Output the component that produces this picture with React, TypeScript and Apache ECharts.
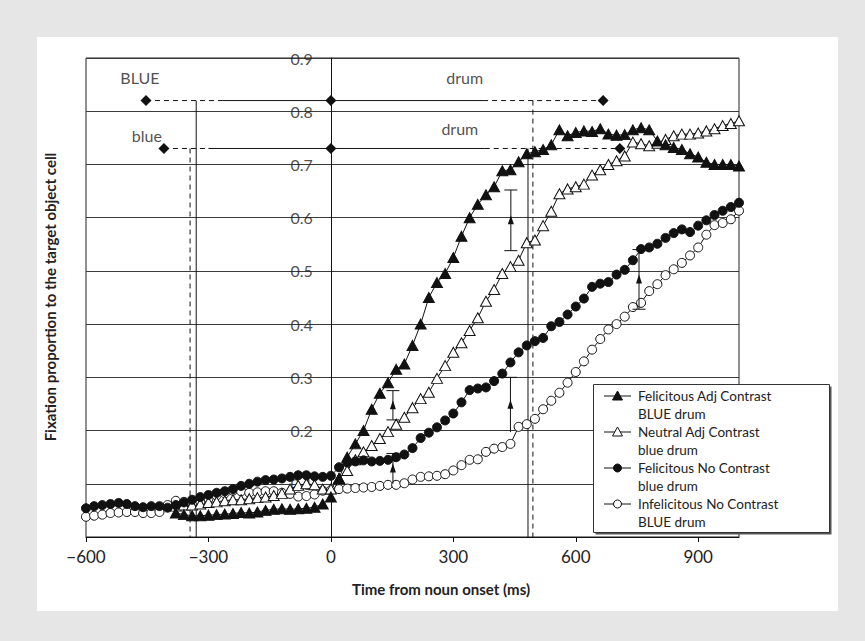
import React, { useEffect, useRef } from 'react';
import * as echarts from 'echarts';

// sampling grid (ms from noun onset)
const timeMs: number[] = Array.from({ length: 81 }, (_, i) => -600 + i * 20);

// Felicitous Adj Contrast (BLUE drum) – filled triangles (no marks drawn before -380 ms)
const felicitousAdj = [
  null, null, null, null, null, null, null, null, null, null, null,
  0.045, 0.042, 0.040, 0.040, 0.041, 0.042, 0.043, 0.044, 0.046, 0.045, 0.047, 0.050, 0.052, 0.053, 0.052, 0.053, 0.054, 0.056, 0.062,
  0.075, 0.110, 0.150, 0.175, 0.200, 0.240, 0.270, 0.290, 0.315, 0.325,
  0.360, 0.400, 0.450, 0.478, 0.495, 0.525, 0.565, 0.600, 0.625, 0.643,
  0.658, 0.688, 0.690, 0.705, 0.720, 0.724, 0.728, 0.737, 0.765, 0.754,
  0.760, 0.763, 0.762, 0.767, 0.757, 0.755, 0.756, 0.765, 0.769, 0.765,
  0.744, 0.737, 0.732, 0.728, 0.720, 0.714, 0.704, 0.700, 0.700, 0.700,
  0.697,
];

// Neutral Adj Contrast (blue drum) – open triangles (no marks drawn before -380 ms)
const neutralAdj = [
  null, null, null, null, null, null, null, null, null, null, null,
  0.058, 0.060, 0.060, 0.062, 0.065, 0.066, 0.068, 0.070, 0.070, 0.072, 0.074, 0.075, 0.078, 0.082, 0.090, 0.097, 0.100, 0.098, 0.090,
  0.090, 0.110, 0.125, 0.145, 0.160, 0.172, 0.185, 0.198, 0.212, 0.225,
  0.243, 0.260, 0.272, 0.298, 0.322, 0.347, 0.365, 0.388, 0.412, 0.443,
  0.465, 0.495, 0.508, 0.520, 0.553, 0.558, 0.585, 0.612, 0.645, 0.654,
  0.658, 0.663, 0.680, 0.690, 0.700, 0.707, 0.716, 0.742, 0.739, 0.735,
  0.740, 0.747, 0.754, 0.757, 0.757, 0.759, 0.763, 0.767, 0.773, 0.777,
  0.782,
];

// Felicitous No Contrast (blue drum) – filled circles
const felicitousNo = [
  0.054, 0.058, 0.060, 0.062, 0.064, 0.062, 0.058, 0.056, 0.058, 0.058, 0.055,
  0.060, 0.065, 0.070, 0.075, 0.079, 0.083, 0.086, 0.090, 0.096, 0.100, 0.104, 0.107, 0.108, 0.110, 0.113, 0.116, 0.116, 0.114, 0.113,
  0.115, 0.131, 0.140, 0.142, 0.144, 0.142, 0.143, 0.145, 0.150, 0.155,
  0.167, 0.186, 0.196, 0.206, 0.219, 0.232, 0.253, 0.276, 0.279, 0.281,
  0.293, 0.307, 0.328, 0.347, 0.360, 0.368, 0.374, 0.396, 0.404, 0.418,
  0.433, 0.448, 0.470, 0.476, 0.479, 0.493, 0.502, 0.520, 0.541, 0.544,
  0.551, 0.562, 0.571, 0.578, 0.573, 0.585, 0.595, 0.605, 0.613, 0.620,
  0.628,
];

// Infelicitous No Contrast (BLUE drum) – open circles
const infelicitousNo = [
  0.038, 0.040, 0.042, 0.045, 0.046, 0.047, 0.047, 0.045, 0.045, 0.047, 0.060,
  0.068, 0.066, 0.064, 0.067, 0.072, 0.078, 0.082, 0.087, 0.086, 0.083, 0.084, 0.086, 0.086, 0.083, 0.081, 0.076, 0.077, 0.080, 0.087,
  0.088, 0.090, 0.091, 0.092, 0.093, 0.094, 0.096, 0.098, 0.098, 0.101,
  0.108, 0.113, 0.114, 0.115, 0.118, 0.125, 0.135, 0.145, 0.146, 0.160,
  0.166, 0.169, 0.175, 0.207, 0.212, 0.222, 0.240, 0.256, 0.271, 0.290,
  0.310, 0.330, 0.352, 0.372, 0.390, 0.400, 0.414, 0.432, 0.440, 0.462,
  0.475, 0.492, 0.503, 0.515, 0.529, 0.544, 0.568, 0.586, 0.590, 0.597,
  0.613,
];

const legendNames = ['Felicitous Adj Contrast', 'Neutral Adj Contrast', 'Felicitous No Contrast', 'Infelicitous No Contrast'];
const legendSubNames = ['BLUE drum', 'blue drum', 'blue drum', 'BLUE drum'];
const yTickValues = [0.1, 0.2, 0.3, 0.4, 0.5, 0.6, 0.7, 0.8, 0.9];

// word timelines: [x1, y1, x2, y2, dashed]
const timelineSegments = [
  [-453, 0.82, -265, 0.82, 1],
  [-265, 0.82, 373, 0.82, 0],
  [373, 0.82, 667, 0.82, 1],
  [-409, 0.73, -300, 0.73, 1],
  [-300, 0.73, 377, 0.73, 0],
  [377, 0.73, 708, 0.73, 1],
  [-330, 0.82, -330, 0, 0],
  [-345, 0.73, -345, 0, 1],
  [483, 0.73, 483, 0, 0],
  [495, 0.82, 495, 0, 1],
];
const diamondPoints = [[-453, 0.82], [0, 0.82], [667, 0.82], [-409, 0.73], [0, 0.73], [708, 0.73]];
const wordLabels: [string, number, number][] = [
  ['BLUE', -468, 0.863], ['drum', 328, 0.863], ['blue', -451, 0.754], ['drum', 316, 0.767],
];
// difference bars: [x, low, high, bottomCap]
const diffBars = [
  [152, 0.22, 0.275, 1],
  [152, 0.10, 0.157, 0],
  [440, 0.197, 0.30, 0],
  [441, 0.538, 0.652, 1],
  [755, 0.428, 0.54, 1],
];

const FONT = 'Lato';
const INK = '#111';

function zip(vals: (number | null)[]) {
  return timeMs.map((t, i) => [t, vals[i] === null ? '-' : vals[i]]);
}

export default function App() {
  const ref = useRef<HTMLDivElement>(null);
  useEffect(() => {
    if (!ref.current) return;
    const chart = echarts.init(ref.current, null, { renderer: 'svg' });
    const lineCommon = {
      type: 'line',
      showAllSymbol: true,
      lineStyle: { color: INK, width: 1 },
      z: 3,
    };
    const legendRowsY = [396, 432, 468, 504];
    const legendGraphics: any[] = [
      { type: 'rect', shape: { x: 595.5, y: 386.5, width: 236, height: 148 }, style: { fill: '#555' }, z: 100 },
      { type: 'rect', shape: { x: 593.5, y: 384.5, width: 236, height: 148 }, style: { fill: '#fff', stroke: '#333', lineWidth: 1 }, z: 101 },
    ];
    legendRowsY.forEach((y, i) => {
      legendGraphics.push({ type: 'line', shape: { x1: 604, y1: y, x2: 631, y2: y }, style: { stroke: INK, lineWidth: 1 }, z: 102 });
      const filled = i === 0 || i === 2;
      const fill = filled ? INK : '#fff';
      if (i < 2) {
        legendGraphics.push({ type: 'polygon', shape: { points: [[617.5, y - 5], [612.5, y + 4], [622.5, y + 4]] }, style: { fill, stroke: INK, lineWidth: 1 }, z: 103 });
      } else {
        legendGraphics.push({ type: 'circle', shape: { cx: 617.5, cy: y, r: 4 }, style: { fill, stroke: INK, lineWidth: 1 }, z: 103 });
      }
      legendGraphics.push({ type: 'text', x: 638, y, style: { text: legendNames[i], font: `13.5px ${FONT}`, fill: '#222', verticalAlign: 'middle', align: 'left' }, z: 103 });
      legendGraphics.push({ type: 'text', x: 638, y: y + 18, style: { text: legendSubNames[i], font: `13.5px ${FONT}`, fill: '#222', verticalAlign: 'middle', align: 'left' }, z: 103 });
    });

    chart.setOption({
      animation: false,
      backgroundColor: 'transparent',
      grid: { left: 86, right: 126, top: 58, bottom: 104, show: true, borderColor: '#222', borderWidth: 1, backgroundColor: 'transparent' },
      xAxis: {
        type: 'value', min: -600, max: 1000, interval: 300,
        axisLine: { onZero: false, lineStyle: { color: INK, width: 1 } },
        axisTick: { show: true, length: 5, lineStyle: { color: INK } },
        axisLabel: {
          showMaxLabel: false, margin: 11, fontSize: 17, color: '#222', fontFamily: FONT,
          formatter: (v: number) => (v === 1000 ? '' : v < 0 ? '\u2212' + Math.abs(v) : String(v)),
        },
        splitLine: { show: false },
      },
      yAxis: {
        type: 'value', min: 0, max: 0.9, interval: 0.1,
        axisLine: { show: true, onZero: true, lineStyle: { color: INK, width: 1 } },
        axisTick: { show: false },
        axisLabel: { show: false },
        splitLine: { show: true, lineStyle: { color: '#3a3a3a', width: 1.2 } },
      },
      graphic: [
        { type: 'text', x: 441, y: 589, style: { text: 'Time from noun onset (ms)', font: `bold 15px ${FONT}`, fill: '#222', align: 'center', verticalAlign: 'middle' } },
        { type: 'text', x: 50, y: 297, rotation: Math.PI / 2, style: { text: 'Fixation proportion to the target object cell', font: `bold 15px ${FONT}`, fill: '#222', align: 'center', verticalAlign: 'middle' } },
        ...legendGraphics,
      ],
      series: [
        {
          type: 'custom', z: 1, silent: true,
          encode: { x: [0, 2], y: [1, 3] },
          data: timelineSegments,
          renderItem: (_p: any, api: any) => {
            const a = api.coord([api.value(0), api.value(1)]);
            const b = api.coord([api.value(2), api.value(3)]);
            return {
              type: 'line',
              shape: { x1: a[0], y1: a[1], x2: b[0], y2: b[1] },
              style: { stroke: INK, lineWidth: 1, lineDash: api.value(4) ? [5, 4] : null },
            };
          },
        },
        {
          type: 'scatter', z: 2, silent: true, symbol: 'diamond', symbolSize: [11, 11],
          itemStyle: { color: INK, opacity: 1 }, data: diamondPoints,
        },
        {
          type: 'scatter', z: 2, silent: true, symbolSize: 0,
          data: wordLabels.map(([w, x, y]) => ({ name: w, value: [x, y] })),
          label: { show: true, position: 'inside', formatter: '{b}', fontSize: 16, color: '#222', fontFamily: FONT },
        },
        {
          type: 'scatter', z: 2, silent: true, symbolSize: 0,
          data: yTickValues.map((v) => [0, v]),
          label: {
            show: true, position: 'left', distance: 18, fontSize: 16, color: '#222', fontFamily: FONT,
            formatter: (p: any) => p.value[1].toFixed(1),
          },
        },
        {
          ...lineCommon, name: legendNames[3], data: zip(infelicitousNo),
          symbol: 'circle', symbolSize: 9,
          itemStyle: { color: '#fff', borderColor: INK, borderWidth: 1 },
        },
        {
          ...lineCommon, name: legendNames[1], data: zip(neutralAdj),
          symbol: 'triangle', symbolSize: [11, 10],
          itemStyle: { color: '#fff', borderColor: INK, borderWidth: 1 },
        },
        {
          ...lineCommon, name: legendNames[0], data: zip(felicitousAdj),
          symbol: 'triangle', symbolSize: [11, 10],
          itemStyle: { color: INK, borderColor: INK, borderWidth: 1 },
        },
        {
          ...lineCommon, name: legendNames[2], data: zip(felicitousNo),
          symbol: 'circle', symbolSize: 9,
          itemStyle: { color: INK, borderColor: INK, borderWidth: 1 },
        },
        {
          type: 'custom', z: 4, silent: true,
          encode: { x: 0, y: [1, 2] },
          data: diffBars,
          renderItem: (_p: any, api: any) => {
            const x = api.value(0);
            const lo = api.coord([x, api.value(1)]);
            const hi = api.coord([x, api.value(2)]);
            const cx = lo[0];
            const mid = (lo[1] + hi[1]) / 2;
            const children: any[] = [
              { type: 'line', shape: { x1: cx, y1: lo[1], x2: cx, y2: hi[1] }, style: { stroke: INK, lineWidth: 1 } },
              { type: 'line', shape: { x1: cx - 6.5, y1: hi[1], x2: cx + 6.5, y2: hi[1] }, style: { stroke: INK, lineWidth: 1 } },
              { type: 'polygon', shape: { points: [[cx, mid - 5], [cx - 3, mid + 4], [cx + 3, mid + 4]] }, style: { fill: INK } },
            ];
            if (api.value(3)) {
              children.push({ type: 'line', shape: { x1: cx - 6.5, y1: lo[1], x2: cx + 6.5, y2: lo[1] }, style: { stroke: INK, lineWidth: 1 } });
            }
            return { type: 'group', children };
          },
        },
      ],
    });
    return () => chart.dispose();
  }, []);

  return (
    <div style={{ position: 'fixed', left: 0, top: 0, width: 865, height: 641, background: '#e6e6e7' }}>
      <div style={{ position: 'absolute', left: 37, top: 37, width: 801, height: 574, background: '#fff' }} />
      <div ref={ref} style={{ position: 'absolute', left: 0, top: 0, width: 865, height: 641 }} />
    </div>
  );
}
